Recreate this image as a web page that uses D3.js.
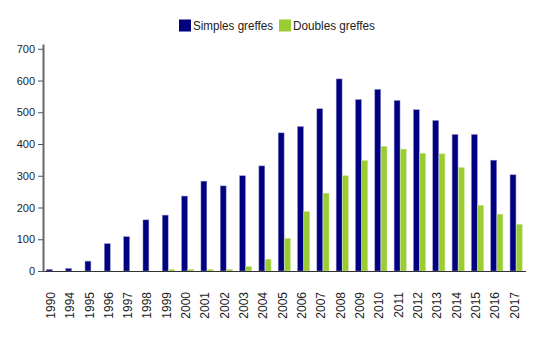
<!DOCTYPE html>
<html>
<head>
<meta charset="utf-8">
<script src="https://cdn.jsdelivr.net/npm/d3@7"></script>
<style>
  html, body { margin: 0; padding: 0; background: #fff; }
  svg { display: block; font-family: "Liberation Sans", Arial, sans-serif; }
</style>
</head>
<body>
<svg id="chart" width="543" height="338"></svg>
<script>
const years = ["1990","1994","1995","1996","1997","1998","1999","2000","2001","2002","2003","2004","2005","2006","2007","2008","2009","2010","2011","2012","2013","2014","2015","2016","2017"];
const simples = [5, 8, 31, 86, 108, 161, 176, 236, 283, 268, 300, 331, 435, 455, 511, 605, 540, 572, 537, 508, 474, 430, 430, 349, 303];
const doubles = [0, 0, 0, 0, 0, 0, 5, 5, 5, 5, 14, 37, 103, 187, 245, 300, 348, 392, 384, 371, 369, 326, 207, 179, 147];
const seriesNames = ["Simples greffes", "Doubles greffes"];
const seriesColors = ["#000080", "#9acd32"];
const yTicks = [0, 100, 200, 300, 400, 500, 600, 700];

const svg = d3.select("#chart");
const mLeft = 43, mRight = 526, mBottom = 271, mTop = 44;

const x0 = d3.scaleBand().domain(years).range([mLeft, mRight]).paddingInner(0.35).paddingOuter(0.175);
const x1 = d3.scaleBand().domain([0, 1]).range([0, x0.bandwidth()]).padding(0);
const y = d3.scaleLinear().domain([0, 715]).range([mBottom, mTop]);

const data = years.map((yr, i) => ({ year: yr, vals: [simples[i], doubles[i]] }));

// bars
const g = svg.append("g");
const groups = g.selectAll("g.grp").data(data).join("g")
  .attr("transform", d => `translate(${x0(d.year)},0)`);
groups.selectAll("rect").data(d => d.vals.map((v, k) => ({ v, k })))
  .join("rect")
  .attr("x", d => x1(d.k))
  .attr("y", d => y(d.v))
  .attr("width", x1.bandwidth() - 0.4)
  .attr("height", d => mBottom - y(d.v))
  .attr("fill", d => seriesColors[d.k])
  .attr("stroke", d => d.k === 0 ? "#8c8cc8" : "#c8e490")
  .attr("stroke-width", 0.5);

// x axis line
svg.append("line").attr("x1", mLeft).attr("x2", mRight).attr("y1", mBottom + 0.5).attr("y2", mBottom + 0.5)
  .attr("stroke", "#333").attr("stroke-width", 1);

// y axis
const yAxis = svg.append("g").attr("transform", `translate(${mLeft},0)`)
  .call(d3.axisLeft(y).tickValues(yTicks).tickSize(5).tickSizeOuter(0).tickPadding(3));
yAxis.select(".domain").attr("stroke", "#666").attr("stroke-width", 2);
yAxis.selectAll(".tick line").attr("stroke", "#555");
yAxis.selectAll("text").attr("fill", "#222").style("font-size", "11px");

// x labels
svg.append("g").selectAll("text").data(years).join("text")
  .attr("transform", d => `translate(${x0(d) + x0.bandwidth() / 2 - 2},${mBottom + 21}) rotate(-90)`)
  .attr("text-anchor", "end")
  .attr("dy", "0.35em")
  .attr("fill", "#222")
  .style("font-size", "12px")
  .text(d => d);

// legend
const legend = svg.append("g");
const lx = [179, 279];
seriesNames.forEach((name, k) => {
  legend.append("rect").attr("x", lx[k]).attr("y", 19.5).attr("width", 12).attr("height", 12).attr("fill", seriesColors[k]);
  legend.append("text").attr("x", lx[k] + 14).attr("y", 30).attr("fill", "#222")
    .style("font-size", "12px")
    .attr("textLength", k === 0 ? 80 : 82).attr("lengthAdjust", "spacingAndGlyphs")
    .text(name);
});
</script>
</body>
</html>
